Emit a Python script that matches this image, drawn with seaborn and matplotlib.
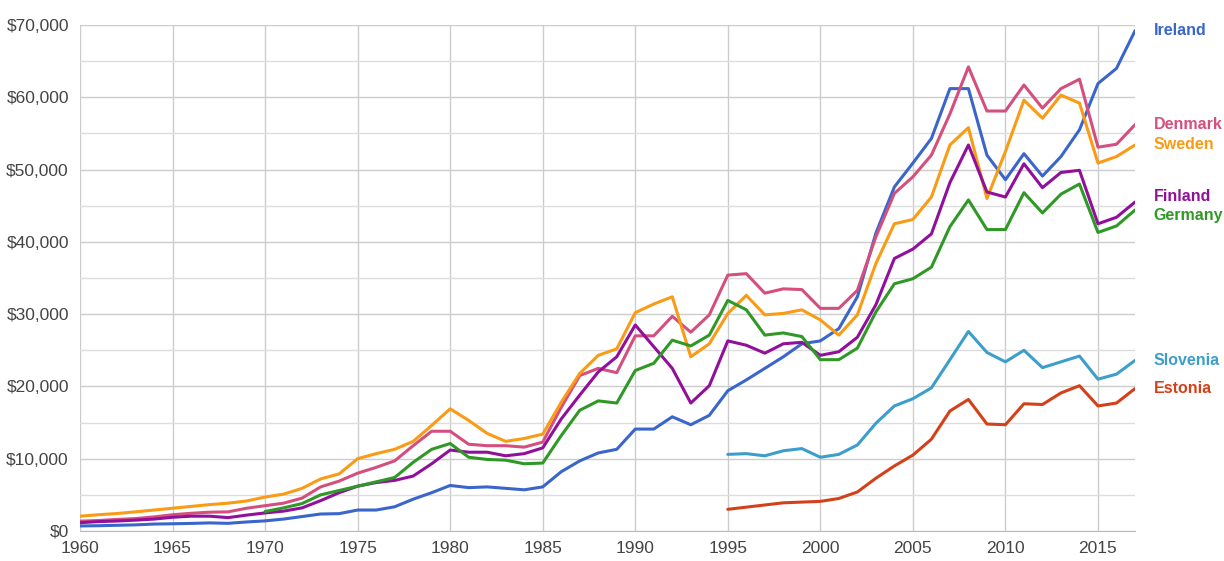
import numpy as np
import pandas as pd
import matplotlib.pyplot as plt
import matplotlib.ticker as mticker
import seaborn as sns

# GDP per capita (current US$)
years = list(range(1960, 2018))

ireland = [700, 730, 790, 850, 960, 1000, 1050, 1120, 1060, 1250,
           1400, 1650, 2000, 2350, 2400, 2900, 2900, 3350, 4400, 5300,
           6300, 6000, 6100, 5900, 5700, 6100, 8200, 9700, 10800, 11300,
           14100, 14100, 15800, 14700, 16000, 19400, 20900, 22500, 24100, 25900,
           26300, 28000, 32400, 41200, 47600, 50900, 54300, 61200, 61200, 52000,
           48600, 52200, 49100, 51800, 55500, 61900, 64000, 69200]

denmark = [1360, 1450, 1600, 1720, 1950, 2250, 2450, 2600, 2650, 3150,
           3500, 3850, 4550, 6100, 6900, 8000, 8800, 9700, 11800, 13800,
           13800, 12000, 11800, 11800, 11600, 12300, 17100, 21500, 22500, 21900,
           27000, 27000, 29700, 27500, 29900, 35400, 35600, 32900, 33500, 33400,
           30800, 30800, 33300, 40700, 46700, 49000, 52000, 57700, 64200, 58100,
           58100, 61700, 58500, 61200, 62500, 53100, 53500, 56200]

sweden = [2050, 2250, 2420, 2650, 2900, 3150, 3400, 3650, 3850, 4150,
          4700, 5100, 5900, 7200, 7900, 10000, 10700, 11300, 12400, 14600,
          16900, 15300, 13500, 12400, 12800, 13400, 17800, 21800, 24300, 25200,
          30200, 31400, 32400, 24100, 25900, 30100, 32600, 29900, 30100, 30600,
          29200, 27100, 29900, 37000, 42500, 43100, 46200, 53400, 55800, 46000,
          52500, 59600, 57100, 60300, 59200, 50900, 51800, 53400]

finland = [1150, 1300, 1380, 1500, 1650, 1900, 2050, 2050, 1850, 2200,
           2500, 2750, 3200, 4200, 5300, 6200, 6700, 7000, 7600, 9300,
           11200, 10900, 10900, 10400, 10700, 11500, 15500, 18800, 22000, 24100,
           28500, 25500, 22500, 17700, 20100, 26300, 25700, 24600, 25900, 26100,
           24300, 24800, 26800, 31300, 37700, 39000, 41100, 48200, 53400, 46900,
           46200, 50800, 47500, 49600, 49900, 42500, 43400, 45500]

germany_years = list(range(1970, 2018))
germany = [2700, 3200, 3800, 5000, 5600, 6200, 6800, 7400, 9500, 11300,
           12100, 10200, 9900, 9800, 9300, 9400, 13200, 16700, 18000, 17700,
           22200, 23200, 26400, 25600, 27100, 31900, 30600, 27100, 27400, 26900,
           23700, 23700, 25300, 30300, 34200, 34900, 36500, 42100, 45800, 41700,
           41700, 46800, 44000, 46600, 48000, 41300, 42200, 44400]

late_years = list(range(1995, 2018))
slovenia = [10600, 10700, 10400, 11100, 11400, 10200, 10600, 11900, 14900, 17300,
            18300, 19800, 23700, 27600, 24700, 23400, 25000, 22600, 23400, 24200,
            21000, 21700, 23600]
estonia = [3000, 3300, 3600, 3900, 4000, 4100, 4500, 5400, 7300, 9000,
           10500, 12700, 16600, 18200, 14800, 14700, 17600, 17500, 19100, 20100,
           17300, 17700, 19700]

countries = ['Ireland', 'Denmark', 'Sweden', 'Finland', 'Germany', 'Slovenia', 'Estonia']
colors = {'Ireland': '#3a66cc', 'Denmark': '#d44f7e', 'Sweden': '#f99b14',
          'Finland': '#91109b', 'Germany': '#2f9826', 'Slovenia': '#3c9ecb',
          'Estonia': '#d4401a'}

# small vertical nudges so the end labels don't collide
label_nudge = {'Finland': 800, 'Germany': -800}


def build_frame():
    parts = []
    series = [('Ireland', years, ireland), ('Denmark', years, denmark),
              ('Sweden', years, sweden), ('Finland', years, finland),
              ('Germany', germany_years, germany),
              ('Slovenia', late_years, slovenia), ('Estonia', late_years, estonia)]
    for name, yrs, vals in series:
        parts.append(pd.DataFrame({'year': yrs, 'gdp': vals, 'country': name}))
    return pd.concat(parts, ignore_index=True)


def main():
    sns.set_style('white')
    plt.rcParams['font.family'] = ['Liberation Sans', 'DejaVu Sans']

    df = build_frame()

    fig, ax = plt.subplots(figsize=(12.24, 5.61), dpi=100)
    fig.subplots_adjust(left=80 / 1224, right=1135 / 1224,
                        bottom=1 - 531 / 561, top=1 - 25 / 561)

    sns.lineplot(data=df, x='year', y='gdp', hue='country', hue_order=countries,
                 palette=colors, linewidth=2.2, errorbar=None, legend=False, ax=ax)

    ax.set_xlim(1960, 2017)
    ax.set_ylim(0, 70000)
    ax.set_xlabel('')
    ax.set_ylabel('')

    # grid: vertical every 5 years, horizontal every $5,000
    ax.xaxis.set_major_locator(mticker.MultipleLocator(5))
    ax.xaxis.set_minor_locator(mticker.MultipleLocator(1))
    ax.yaxis.set_major_locator(mticker.MultipleLocator(10000))
    ax.yaxis.set_minor_locator(mticker.MultipleLocator(5000))
    ax.yaxis.set_major_formatter(mticker.FuncFormatter(lambda v, p: f'${v:,.0f}'))
    ax.grid(which='major', color='#cccccc', linewidth=1)
    ax.grid(which='minor', axis='y', color='#dddddd', linewidth=1)
    ax.set_axisbelow(True)

    for side in ['top', 'right', 'left']:
        ax.spines[side].set_visible(False)
    ax.spines['bottom'].set_color('#bbbbbb')

    ax.tick_params(axis='both', which='major', length=0, labelsize=12.5,
                   labelcolor='#444444')
    ax.tick_params(axis='y', pad=8)
    ax.tick_params(axis='x', pad=7)
    ax.tick_params(axis='x', which='minor', direction='in', length=4,
                   color='#cccccc')
    ax.tick_params(axis='y', which='minor', length=0)

    # country names at the right end of each line
    last = df.sort_values('year').groupby('country').last()
    for name in countries:
        yv = last.loc[name, 'gdp'] + label_nudge.get(name, 0)
        ax.text(2018.0, yv, name, color=colors[name], fontsize=11.5,
                fontweight='bold', va='center', ha='left', clip_on=False)

    plt.savefig('out.png', dpi=100)
    plt.close()


if __name__ == "__main__":
    main()
